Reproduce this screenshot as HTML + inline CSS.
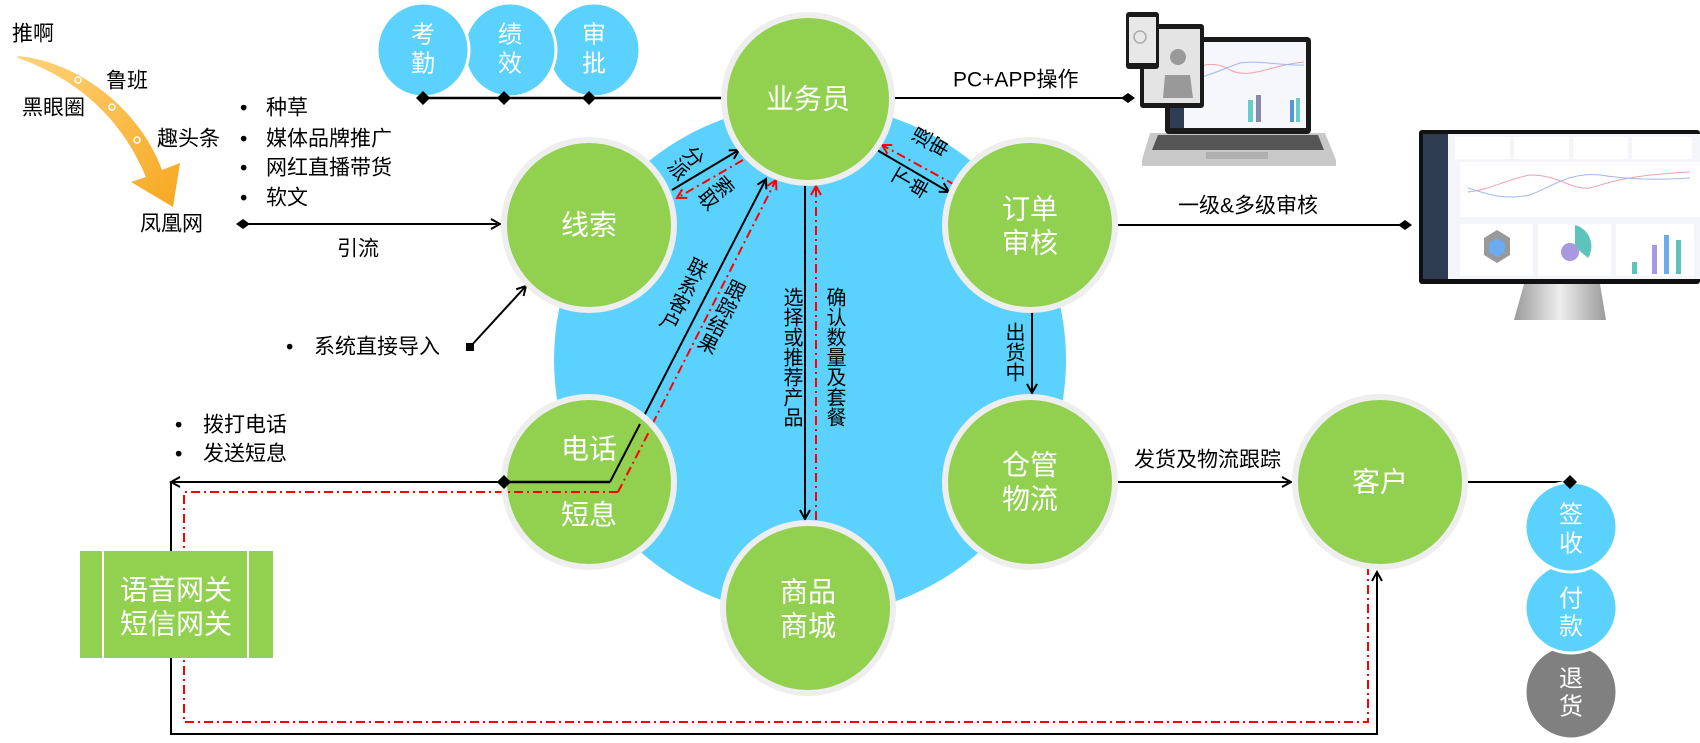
<!DOCTYPE html>
<html><head><meta charset="utf-8"><style>
html,body{margin:0;padding:0;background:#fff;}
svg{display:block;}
text{font-family:"Liberation Sans","Noto Sans CJK SC",sans-serif;}
.w{fill:#fff;font-size:28px;text-anchor:middle;dominant-baseline:central;}
.ws{fill:#fff;font-size:24px;text-anchor:middle;dominant-baseline:central;}
.b{fill:#000;font-size:21px;dominant-baseline:central;}
.v{fill:#000;font-size:20px;writing-mode:tb;glyph-orientation-vertical:0;}
.rd{stroke:#f00;stroke-width:2;fill:none;stroke-dasharray:9 4 2 4;}
.bl{stroke:#000;stroke-width:2;fill:none;}
</style></head><body>
<svg width="1700" height="743" viewBox="0 0 1700 743" xmlns="http://www.w3.org/2000/svg">
<defs>
<marker id="ar" markerWidth="12" markerHeight="12" refX="10" refY="6" orient="auto" markerUnits="userSpaceOnUse"><path d="M1,1 L10,6 L1,11" fill="none" stroke="#000" stroke-width="2"/></marker>
<marker id="arr" markerWidth="12" markerHeight="12" refX="10" refY="6" orient="auto" markerUnits="userSpaceOnUse"><path d="M1,1 L10,6 L1,11" fill="none" stroke="#f00" stroke-width="2"/></marker>
<marker id="dm" markerWidth="14" markerHeight="14" refX="7" refY="7" orient="auto" markerUnits="userSpaceOnUse"><path d="M0,7 L7,2 L14,7 L7,12Z" fill="#000"/></marker>
<linearGradient id="og" x1="0" y1="0" x2="1" y2="1"><stop offset="0" stop-color="#ffd27a"/><stop offset="1" stop-color="#f6a821"/></linearGradient>
<linearGradient id="sg" x1="0" y1="0" x2="1" y2="0"><stop offset="0" stop-color="#9a9a9a"/><stop offset=".5" stop-color="#eee"/><stop offset="1" stop-color="#9a9a9a"/></linearGradient>
</defs>

<!-- big blue circle -->
<circle cx="810" cy="360" r="256" fill="#5bd1fd"/>

<!-- left orange arrow -->
<path d="M18,56 C80,62 140,110 162,170 L180,163 L173,207 L131,182 L146,177 C122,120 80,80 18,58Z" fill="url(#og)"/>
<circle cx="78" cy="80" r="3" fill="none" stroke="#fff" stroke-width="1.5"/>
<circle cx="112" cy="107" r="3" fill="none" stroke="#fff" stroke-width="1.5"/>
<circle cx="137" cy="140" r="3" fill="none" stroke="#fff" stroke-width="1.5"/>
<text class="b" x="12" y="34" font-size="22">推啊</text>
<text class="b" x="106" y="81">鲁班</text>
<text class="b" x="22" y="108">黑眼圈</text>
<text class="b" x="157" y="139">趣头条</text>
<text class="b" x="140" y="224">凤凰网</text>
<g class="b"><text class="b" x="240" y="108">•</text><text class="b" x="266" y="108">种草</text>
<text class="b" x="240" y="139">•</text><text class="b" x="266" y="139">媒体品牌推广</text>
<text class="b" x="240" y="168">•</text><text class="b" x="266" y="168">网红直播带货</text>
<text class="b" x="240" y="198">•</text><text class="b" x="266" y="198">软文</text></g>
<line x1="243" y1="224" x2="500" y2="224" class="bl" marker-start="url(#dm)" marker-end="url(#ar)"/>
<text class="b" x="337" y="249">引流</text>
<text class="b" x="286" y="347">•</text><text class="b" x="314" y="347">系统直接导入</text>
<rect x="466" y="343" width="8" height="8" fill="#000"/>
<line x1="470" y1="347" x2="526" y2="286" class="bl" marker-end="url(#ar)"/>
<text class="b" x="175" y="425">•</text><text class="b" x="203" y="425">拨打电话</text>
<text class="b" x="175" y="454">•</text><text class="b" x="203" y="454">发送短息</text>

<!-- small blue circles top -->
<ellipse cx="594" cy="50" rx="46" ry="47" fill="#5bd1fd" stroke="#fff" stroke-width="3"/>
<ellipse cx="510" cy="50" rx="46" ry="47" fill="#5bd1fd" stroke="#fff" stroke-width="3"/>
<ellipse cx="423" cy="50" rx="46" ry="47" fill="#5bd1fd" stroke="#fff" stroke-width="3"/>
<text class="ws" x="423" y="35">考</text><text class="ws" x="423" y="64">勤</text>
<text class="ws" x="510" y="35">绩</text><text class="ws" x="510" y="64">效</text>
<text class="ws" x="594" y="35">审</text><text class="ws" x="594" y="64">批</text>
<line x1="423" y1="98" x2="730" y2="98" stroke="#000" stroke-width="2.5"/>
<path d="M416,98 L423,91 L430,98 L423,105Z M497,98 L504,91 L511,98 L504,105Z M582,98 L589,91 L596,98 L589,105Z"/>

<!-- connectors -->
<line x1="892" y1="98" x2="1128" y2="98" class="bl" marker-end="url(#dm)"/>
<text class="b" x="953" y="80" font-size="19">PC+APP操作</text>
<line x1="1118" y1="225" x2="1405" y2="225" class="bl" marker-end="url(#dm)"/>
<text class="b" x="1178" y="206" font-size="19">一级&amp;多级审核</text>
<line x1="1032" y1="312" x2="1032" y2="393" class="bl" marker-end="url(#ar)"/>
<text class="v" x="1013" y="322">出货中</text>
<line x1="1118" y1="482" x2="1291" y2="482" class="bl" marker-end="url(#ar)"/>
<text class="b" x="1134" y="460" font-size="19">发货及物流跟踪</text>
<line x1="1468" y1="482" x2="1570" y2="482" class="bl" marker-end="url(#dm)"/>

<!-- 业务员 <-> 线索 -->
<line x1="672" y1="190" x2="739" y2="150" class="bl" marker-end="url(#ar)"/>
<line x1="743" y1="160" x2="677" y2="198" class="rd" marker-end="url(#arr)"/>
<text class="v" x="0" y="0" transform="translate(700,148) rotate(50)">分派</text>
<text class="v" x="0" y="0" transform="translate(730,178) rotate(50)">索取</text>
<!-- 业务员 <-> 订单 -->
<line x1="877" y1="150" x2="949" y2="192" class="bl" marker-end="url(#ar)"/>
<line x1="955" y1="185" x2="882" y2="145" class="rd" marker-end="url(#arr)"/>
<text class="v" x="0" y="0" transform="translate(912,134) rotate(-60)">退审</text>
<text class="v" x="0" y="0" transform="translate(892,175) rotate(-60)">下单</text>
<!-- 业务员 <-> 商品 -->
<line x1="805" y1="185" x2="805" y2="519" class="bl" marker-end="url(#ar)"/>
<line x1="816" y1="520" x2="816" y2="186" class="rd" marker-end="url(#arr)"/>
<text class="v" x="791" y="287">选择或推荐产品</text>
<text class="v" x="834" y="287">确认数量及套餐</text>
<!-- 电话 -> 业务员 diagonal -->
<polyline points="171,482 610,482 766,179" class="bl" marker-end="url(#ar)"/>
<line x1="504" y1="482" x2="171" y2="482" class="bl" marker-end="url(#ar)"/>
<path d="M497,482 L504,475 L511,482 L504,489Z"/>
<polyline points="618,492 776,180" class="rd" marker-end="url(#arr)"/>
<text class="v" x="0" y="0" transform="translate(700,258) rotate(27)">联系客户</text>
<text class="v" x="0" y="0" transform="translate(738,280) rotate(27)">跟踪结果</text>
<!-- loop to customer -->
<polyline points="171,482 171,734 1377,734 1377,572" class="bl" marker-end="url(#ar)"/>
<polyline points="618,492 184,492 184,722 1368,722 1368,566" class="rd"/>

<!-- gateway box -->
<rect x="80" y="551" width="193" height="107" fill="#92d050"/>
<line x1="103" y1="551" x2="103" y2="658" stroke="#fff" stroke-width="2"/>
<line x1="248" y1="551" x2="248" y2="658" stroke="#fff" stroke-width="2"/>
<text class="w" x="176" y="590">语音网关</text>
<text class="w" x="176" y="624">短信网关</text>

<!-- green circles -->
<g fill="#92d050" stroke="#eeeeee" stroke-width="6">
<circle cx="808" cy="99" r="84"/>
<circle cx="589" cy="225" r="85"/>
<circle cx="1030" cy="225" r="85"/>
<circle cx="589" cy="482" r="85"/>
<circle cx="1030" cy="482" r="85"/>
<circle cx="808" cy="608" r="85"/>
<circle cx="1380" cy="482" r="85"/>
</g>
<text class="w" x="808" y="99">业务员</text>
<text class="w" x="589" y="225">线索</text>
<text class="w" x="1030" y="209">订单</text>
<text class="w" x="1030" y="243">审核</text>
<text class="w" x="589" y="449">电话</text>
<text class="w" x="589" y="515">短息</text>
<text class="w" x="1030" y="465">仓管</text>
<text class="w" x="1030" y="499">物流</text>
<text class="w" x="808" y="592">商品</text>
<text class="w" x="808" y="626">商城</text>
<text class="w" x="1380" y="482">客户</text>
<!-- redraw connector pieces on top of 电话 circle -->
<line x1="504" y1="482" x2="610" y2="482" stroke="#000" stroke-width="2.5"/>
<line x1="610" y1="482" x2="640" y2="424" stroke="#000" stroke-width="2"/>
<line x1="618" y1="492" x2="650" y2="430" class="rd"/>
<line x1="618" y1="492" x2="504" y2="492" class="rd"/>
<path d="M497,482 L504,475 L511,482 L504,489Z"/>

<!-- right small circles -->
<ellipse cx="1571" cy="692" rx="46" ry="47" fill="#808080" stroke="#fff" stroke-width="3"/>
<ellipse cx="1571" cy="608" rx="46" ry="45" fill="#5bd1fd" stroke="#fff" stroke-width="3"/>
<ellipse cx="1571" cy="527" rx="46" ry="45" fill="#5bd1fd" stroke="#fff" stroke-width="3"/>
<path d="M1563,482 L1570,475 L1577,482 L1570,489Z"/>
<text class="ws" x="1571" y="515">签</text><text class="ws" x="1571" y="544">收</text>
<text class="ws" x="1571" y="599">付</text><text class="ws" x="1571" y="627">款</text>
<text class="ws" x="1571" y="679">退</text><text class="ws" x="1571" y="707">货</text>

<!-- laptop -->
<path d="M1150,133 L1325,133 L1336,160 L1336,166 L1142,166 L1142,160Z" fill="#c8c8c8"/>
<path d="M1158,135 L1318,135 L1324,150 L1152,150Z" fill="#555"/>
<rect x="1206" y="152" width="62" height="7" fill="#b0b0b0"/>
<rect x="1165" y="37" width="146" height="97" rx="4" fill="#1a1a1a"/>
<rect x="1170" y="42" width="136" height="86" fill="#f6f7fa"/>
<rect x="1170" y="42" width="14" height="86" fill="#2f3d52"/>
<path d="M1186,72 C1200,65 1215,60 1230,70 C1250,80 1270,65 1304,62" stroke="#f0a0b0" fill="none"/>
<path d="M1186,80 C1205,78 1220,70 1240,63 C1260,60 1280,66 1304,65" stroke="#a0b8f0" fill="none"/>
<rect x="1248" y="100" width="5" height="22" fill="#6cc"/><rect x="1256" y="95" width="5" height="27" fill="#88a"/><rect x="1290" y="100" width="4" height="22" fill="#59c"/><rect x="1296" y="98" width="4" height="24" fill="#6cc"/>
<rect x="1140" y="24" width="64" height="84" rx="3" fill="#1a1a1a"/>
<rect x="1144" y="29" width="56" height="74" fill="#e4e4e4"/>
<circle cx="1178" cy="57" r="8" fill="#999"/><path d="M1163,98 L1165,75 L1190,75 L1193,98Z" fill="#999"/>
<rect x="1126" y="12" width="33" height="57" rx="3" fill="#1a1a1a"/>
<rect x="1129" y="17" width="27" height="46" fill="#e8e8e8"/>
<circle cx="1140" cy="37" r="6" fill="none" stroke="#aaa" stroke-width="1.5"/>

<!-- monitor -->
<rect x="1419" y="130" width="281" height="154" rx="3" fill="#111"/>
<rect x="1423" y="134" width="277" height="145" fill="#f4f5f8"/>
<rect x="1423" y="134" width="25" height="145" fill="#2f3d52"/>
<rect x="1455" y="137" width="55" height="22" fill="#fff"/><rect x="1514" y="137" width="55" height="22" fill="#fff"/><rect x="1573" y="137" width="55" height="22" fill="#fff"/><rect x="1632" y="137" width="60" height="22" fill="#fff"/>
<rect x="1460" y="162" width="240" height="55" fill="#fff"/>
<path d="M1468,192 C1490,190 1510,178 1530,175 C1560,175 1570,190 1590,188 C1610,182 1630,175 1690,172" stroke="#f0a0b0" fill="none"/>
<path d="M1468,188 C1490,195 1505,200 1530,195 C1555,185 1570,172 1600,175 C1630,180 1660,180 1690,178" stroke="#a0b8f0" fill="none"/>
<rect x="1460" y="224" width="73" height="52" fill="#fff"/><rect x="1538" y="224" width="73" height="52" fill="#fff"/><rect x="1616" y="224" width="78" height="52" fill="#fff"/>
<path d="M1497,230 L1510,238 L1510,255 L1497,263 L1484,255 L1484,238Z" fill="#999"/><path d="M1497,238 L1505,243 L1505,252 L1497,257 L1489,252 L1489,243Z" fill="#6aacf0"/>
<path d="M1575,247 L1575,225 A22,22 0 0,1 1588,258Z" fill="#5cc4bb"/><circle cx="1570" cy="252" r="9" fill="#a898e0"/>
<rect x="1632" y="262" width="5" height="12" fill="#5cc4bb"/><rect x="1652" y="245" width="5" height="29" fill="#a898e0"/><rect x="1664" y="235" width="5" height="39" fill="#6aacf0"/><rect x="1676" y="240" width="5" height="34" fill="#5cc4bb"/>
<path d="M1524,284 L1600,284 L1606,320 L1514,320Z" fill="url(#sg)"/>
</svg>
</body></html>
